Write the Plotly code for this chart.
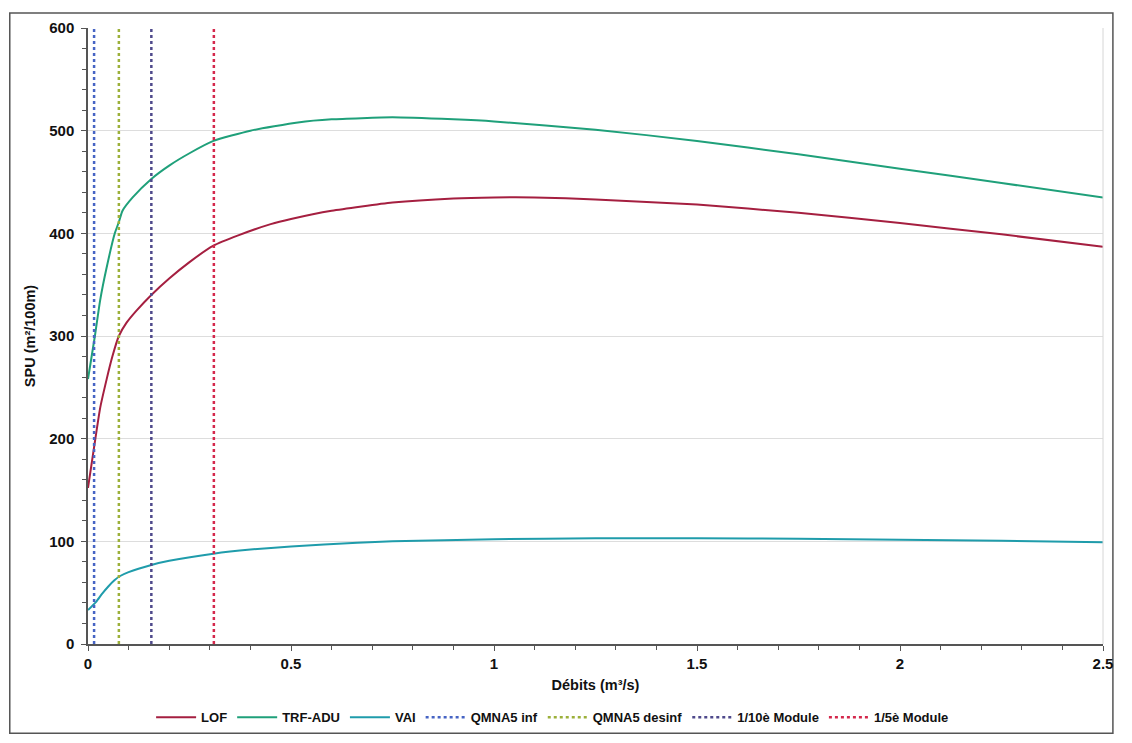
import plotly.graph_objects as go

# Débits (m3/s) sample points
x_lof = [0.0, 0.017, 0.03, 0.046, 0.06, 0.076, 0.095, 0.12, 0.156, 0.2, 0.25, 0.309, 0.37, 0.45, 0.5, 0.6, 0.75, 0.9, 1.0, 1.1, 1.25, 1.5, 1.75, 2.0, 2.25, 2.5]
y_lof = [152, 197, 230, 258, 280, 300, 313, 325, 340, 356, 372, 388, 398, 409, 414, 422, 430, 434, 435, 435, 433, 428, 420, 410, 399, 387]

x_trf = [0.0, 0.017, 0.03, 0.045, 0.066, 0.076, 0.085, 0.11, 0.156, 0.2, 0.25, 0.309, 0.4, 0.517, 0.6, 0.75, 0.9, 1.0, 1.25, 1.5, 1.75, 2.0, 2.25, 2.5]
y_trf = [258, 300, 335, 365, 400, 411, 422, 435, 453, 466, 478, 490, 500, 508, 511, 513, 511, 509, 501, 490, 477, 463, 449, 435]

x_vai = [0.0, 0.02, 0.035, 0.05, 0.065, 0.078, 0.1, 0.156, 0.2, 0.309, 0.4, 0.5, 0.663, 0.75, 1.0, 1.25, 1.5, 1.75, 2.0, 2.25, 2.5]
y_vai = [33, 41, 49, 56, 62, 66, 70, 77, 81, 88, 92, 95, 98.5, 100, 102, 103, 103, 102.5, 101.5, 100.5, 99]

# Reference flows (vertical lines)
ref_names = ["QMNA5 inf", "QMNA5 desinf", "1/10è Module", "1/5è Module"]
ref_values = [0.015, 0.076, 0.156, 0.31]
ref_colors = ["#4664c4", "#9cb03a", "#4f4a8c", "#d4284c"]

x_ticks = [0, 0.5, 1, 1.5, 2, 2.5]
x_ticklabels = ["0", "0.5", "1", "1.5", "2", "2.5"]
y_ticks = [0, 100, 200, 300, 400, 500, 600]

FONT = "Liberation Sans, Arial, sans-serif"

fig = go.Figure()
fig.add_trace(go.Scatter(x=x_lof, y=y_lof, name="LOF", mode="lines",
                         line=dict(color="#a51f40", width=2, shape="spline", smoothing=0.5)))
fig.add_trace(go.Scatter(x=x_trf, y=y_trf, name="TRF-ADU", mode="lines",
                         line=dict(color="#1fa07a", width=2, shape="spline", smoothing=0.5)))
fig.add_trace(go.Scatter(x=x_vai, y=y_vai, name="VAI", mode="lines",
                         line=dict(color="#1f9cab", width=2, shape="spline", smoothing=0.5)))
for n, v, c in zip(ref_names, ref_values, ref_colors):
    fig.add_trace(go.Scatter(x=[v, v], y=[0, 600], name=n, mode="lines",
                             line=dict(color=c, width=2.5, dash="dot")))

# page has an 8px body margin, so the figure is offset by (8, 8); keep it inside the window
W, H = 1116, 727
L, R, T, B = 80, 11, 15, 91
pw, ph = W - L - R, H - T - B
fx0 = (1 - L) / pw
fx1 = (W - 1 - L) / pw
fy1 = (H - B - 0) / ph
fy0 = (H - B - (H - 1)) / ph

fig.update_layout(
    width=W, height=H,
    margin=dict(l=L, r=R, t=T, b=B),
    paper_bgcolor="white", plot_bgcolor="white",
    font=dict(family=FONT, color="#111111"),
    showlegend=True,
    legend=dict(orientation="h", xref="container", x=0.488, xanchor="center",
                yref="container", y=0.0245, yanchor="middle",
                font=dict(size=13, family=FONT, color="#111111", weight="bold"),
                itemwidth=40, tracegroupgap=0, bgcolor="rgba(0,0,0,0)"),
    xaxis=dict(range=[0, 2.5], tickvals=x_ticks, ticktext=x_ticklabels,
               showgrid=False, zeroline=False,
               showline=True, linecolor="#555555", linewidth=1.5,
               ticks="outside", ticklen=5, tickcolor="#555555",
               minor=dict(dtick=0.1, ticks="outside", ticklen=4, tickcolor="#555555", showgrid=False),
               tickfont=dict(size=15, family=FONT, weight="bold", color="#111111"),
               title=dict(text="Débits (m³/s)", font=dict(size=14.5, family=FONT, weight="bold"), standoff=9)),
    yaxis=dict(range=[0, 600], tickvals=y_ticks,
               showgrid=True, gridcolor="#dddddd", gridwidth=1, zeroline=False,
               showline=True, linecolor="#555555", linewidth=1.5,
               ticks="outside", ticklen=5, tickcolor="#555555", ticklabelstandoff=4,
               minor=dict(dtick=20, ticks="outside", ticklen=4, tickcolor="#555555", showgrid=False),
               tickfont=dict(size=15, family=FONT, weight="bold", color="#111111"),
               title=dict(text="SPU (m²/100m)", font=dict(size=14.5, family=FONT, weight="bold"), standoff=10)),
    shapes=[
        dict(type="line", xref="paper", yref="paper", x0=1, x1=1, y0=0, y1=1,
             line=dict(color="#d6d6d6", width=1)),
        dict(type="rect", xref="paper", yref="paper", x0=fx0, x1=fx1, y0=fy0, y1=fy1,
             line=dict(color="#555555", width=1.5), fillcolor="rgba(0,0,0,0)", layer="below"),
    ],
)

fig.write_html("out.html")
